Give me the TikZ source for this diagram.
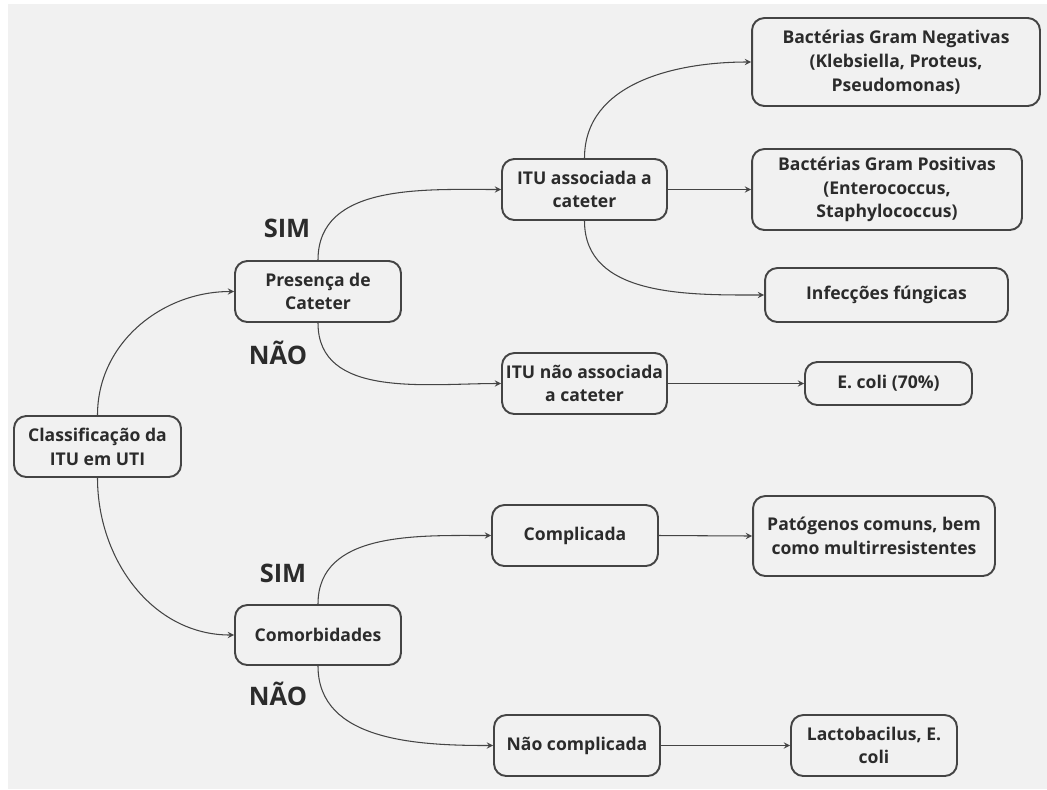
\documentclass[tikz,border=0pt]{standalone}
\usepackage{fontspec}
\setmainfont{Open Sans}
\usepackage{tikz}
\usetikzlibrary{positioning,arrows}

\definecolor{bgray}{HTML}{F1F1F1}
\definecolor{ink}{HTML}{2B2B2B}
\definecolor{edgec}{HTML}{444444}

\tikzset{
  box/.style={draw=edgec,line width=1.1pt,rounded corners=7pt,align=center,
    inner sep=2pt,text=ink,font=\fontsize{10}{13.5}\selectfont\bfseries},
  lbl/.style={text=ink,font=\fontsize{14.5}{16}\selectfont\bfseries},
  conn/.style={->,>=stealth,draw=edgec,line width=0.6pt}
}

\begin{document}
\begin{tikzpicture}[x=0.02cm,y=-0.02cm]

\useasboundingbox (0,0) rectangle (1047,789);
\fill[white] (0,0) rectangle (1047,789);
\fill[bgray] (8,4) rectangle (1047,789);

% root
\node[box,minimum width=3.34cm,minimum height=1.22cm] (raiz) at (97.5,446.5) {Classificação da\\ITU em UTI};

% cateter
\node[box,minimum width=3.32cm,minimum height=1.22cm] (cateter) at (318,291.5) {Presença de\\Cateter};
\node[box,minimum width=3.30cm,minimum height=1.22cm] (assoc) at (584.5,189.5) {ITU associada a\\cateter};
\node[box,minimum width=3.30cm,minimum height=1.22cm] (naoassoc) at (584.5,383.5) {ITU não associada\\a cateter};
\node[box,minimum width=5.76cm,minimum height=1.76cm] (gneg) at (896,62) {Bactérias Gram Negativas\\(Klebsiella, Proteus,\\Pseudomonas)};
\node[box,minimum width=5.40cm,minimum height=1.62cm] (gpos) at (887,189.5) {Bactérias Gram Positivas\\(Enterococcus,\\Staphylococcus)};
\node[box,minimum width=4.86cm,minimum height=1.08cm] (fungo) at (886.5,295) {Infecções fúngicas};
\node[box,minimum width=3.34cm,minimum height=0.86cm] (ecoli) at (888.5,383.5) {E. coli (70\%)};

% comorbidades
\node[box,minimum width=3.32cm,minimum height=1.20cm] (comorb) at (318,635) {Comorbidades};
\node[box,minimum width=3.32cm,minimum height=1.22cm] (compl) at (575,535.5) {Complicada};
\node[box,minimum width=4.84cm,minimum height=1.60cm] (patog) at (874,536) {Patógenos comuns, bem\\como multirresistentes};
\node[box,minimum width=3.32cm,minimum height=1.22cm] (naocompl) at (577,745.5) {Não complicada};
\node[box,minimum width=3.32cm,minimum height=1.22cm] (lacto) at (874,745.5) {Lactobacilus, E.\\coli};

% SIM / NAO
\node[lbl] (sim1) at (287,228) {SIM};
\node[lbl] (nao1) at (278,353) {NÃO};
\node[lbl] (sim2) at (283,573) {SIM};
\node[lbl] (nao2) at (278,694) {NÃO};

\draw[conn] (raiz.north) to[out=90,in=180] (cateter.west);
\draw[conn] (raiz.south) to[out=-90,in=180] (comorb.west);

\draw[conn] (cateter.north) to[out=90,in=180] (assoc.west);
\draw[conn] (cateter.south) to[out=-90,in=180] (naoassoc.west);

\draw[conn] (assoc.north) to[out=90,in=180] (gneg.west);
\draw[conn] (assoc.east) -- (gpos.west);
\draw[conn] (assoc.south) to[out=-90,in=180] (fungo.west);
\draw[conn] (naoassoc.east) -- (ecoli.west);

\draw[conn] (comorb.north) to[out=90,in=180] (compl.west);
\draw[conn] (comorb.south) to[out=-90,in=180] (naocompl.west);
\draw[conn] (compl.east) -- (patog.west);
\draw[conn] (naocompl.east) -- (lacto.west);

\end{tikzpicture}
\end{document}
